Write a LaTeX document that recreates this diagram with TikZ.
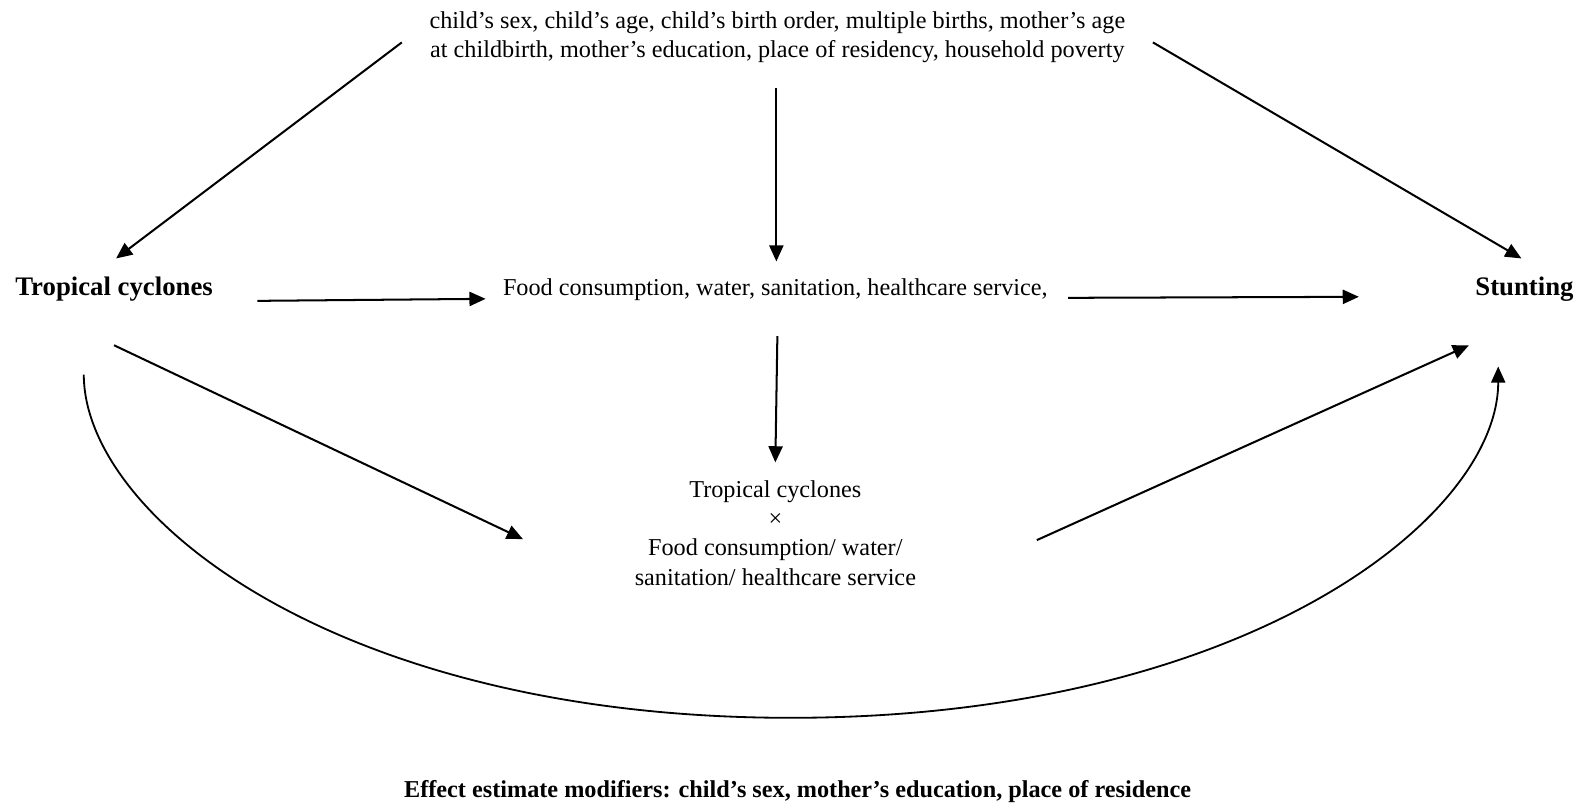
\documentclass[tikz,border=0pt]{standalone}
\usepackage{fontspec}
\setmainfont{Liberation Serif}
\usetikzlibrary{arrows.meta, calc}

\begin{document}
\begin{tikzpicture}[
    x=1pt, y=-1pt,
    every node/.style={font=\fontsize{24}{29}\selectfont, inner sep=0pt},
    factor/.style={font=\fontsize{26.5}{31}\selectfont\bfseries},
    block/.style={align=center},
    arrow/.style={-{Triangle[length=16pt, width=14pt]}, line width=2pt, black}
]
\useasboundingbox (0,0) rectangle (1568,796);

\node[block] (cov) at (770,37) {child’s sex, child’s age, child’s birth order, multiple births, mother’s age\\at childbirth, mother’s education, place of residency, household poverty};
\node[factor] (tc) at (113,286) {Tropical cyclones};
\node[factor] (stunt) at (1510,286) {Stunting};
\node (mid) at (768,287) {Food consumption, water, sanitation, healthcare service,};
\node[block] (inter) at (768,528) {Tropical cyclones\\×\\Food consumption/ water/\\sanitation/ healthcare service};
\node[font=\fontsize{24}{29}\selectfont\bfseries] (mods) at (790,784) {Effect estimate modifiers: child’s sex, mother’s education, place of residence};
\coordinate (low) at (783,711);

\draw[arrow] ($(cov)+(-372,5)$) -- ($(tc)+(2,-30)$);
\draw[arrow] ($(cov)+(372,5)$) -- ($(stunt)+(-3,-30)$);
\draw[arrow] ($(cov)+(-1,50)$) -- ($(mid)+(1,-28)$);
\draw[arrow] ($(tc)+(142,12)$) -- ($(mid)+(-287,9)$);
\draw[arrow] ($(mid)+(290,8)$) -- ($(stunt)+(-164,8)$);
\draw[arrow] ($(mid)+(2,46)$) -- ($(inter)+(0,-70)$);
\draw[arrow] ($(tc)+(0,56)$) -- ($(inter)+(-250,6)$);
\draw[arrow] ($(inter)+(259,7)$) -- ($(stunt)+(-55,56)$);

% direct effect
\draw[arrow, line width=1.8pt] ($(tc)+(-30,85)$) .. controls ($(tc)+(-30,225)$) and ($(low)+(-450,0)$) .. (low)
    .. controls ($(low)+(450,0)$) and ($(stunt)+(-26,227)$) .. ($(stunt)+(-26,77)$);

\end{tikzpicture}
\end{document}
